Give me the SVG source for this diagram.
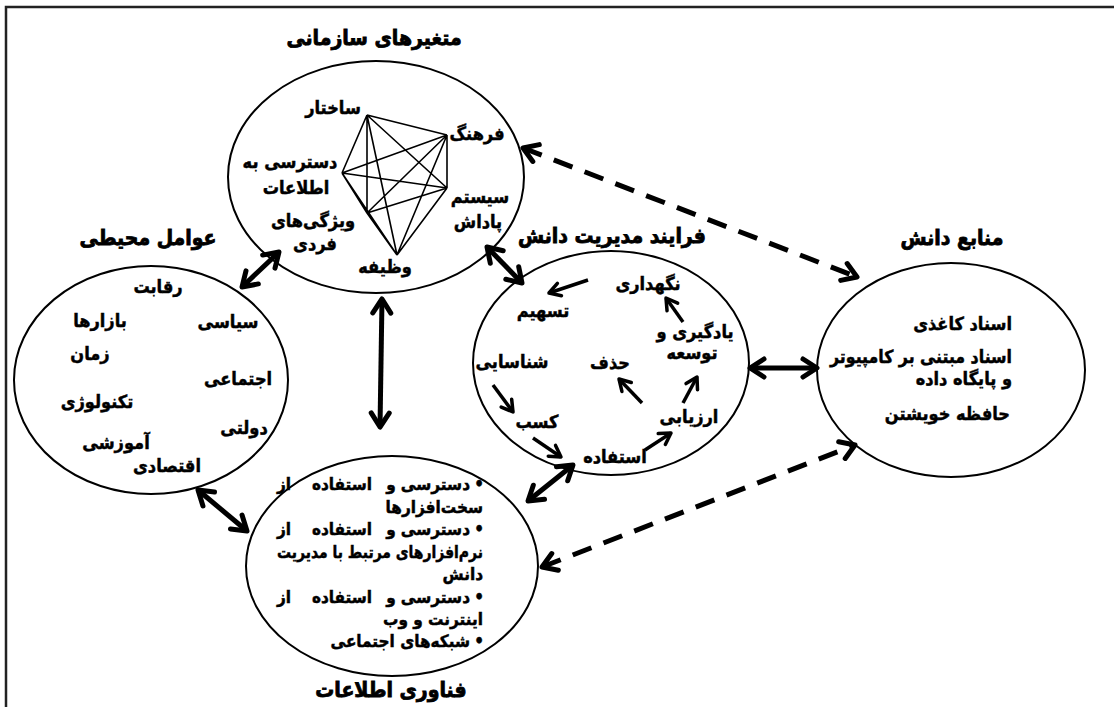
<svg xmlns="http://www.w3.org/2000/svg" width="1114" height="707" viewBox="0 0 1114 707">
<style>
text{font-family:"DejaVu Sans Condensed","DejaVu Sans",sans-serif;font-stretch:condensed;font-weight:bold;fill:#000;stroke:#000;stroke-width:0.45;}
.t{font-size:18px;text-anchor:middle;}
.r{font-size:18px;text-anchor:end;}
.b{font-size:17px;text-anchor:end;}
.bm{font-size:17px;text-anchor:middle;}
.bl{font-size:17px;text-anchor:start;}
.h{font-size:21px;text-anchor:middle;stroke-width:0.8;}
.ell{fill:none;stroke:#000;stroke-width:2;}
.k{fill:none;stroke:#000;stroke-width:1.6;}
.big{fill:none;stroke:#000;stroke-width:5;marker-start:url(#bh);marker-end:url(#bh);}
.dash{fill:none;stroke:#000;stroke-width:5;stroke-dasharray:20 13;marker-start:url(#bh);marker-end:url(#bh);}
.sm{fill:none;stroke:#000;stroke-width:3.5;marker-end:url(#sh);}
</style>
<defs>
<marker id="bh" viewBox="0 0 22 22" refX="19" refY="11" markerWidth="22" markerHeight="22" markerUnits="userSpaceOnUse" orient="auto-start-reverse" overflow="visible">
<path d="M5,2 L19,11 L5,20" fill="none" stroke="#000" stroke-width="5" stroke-linecap="round" stroke-linejoin="round"/>
</marker>
<marker id="sh" viewBox="0 0 16 16" refX="14" refY="8" markerWidth="16" markerHeight="16" markerUnits="userSpaceOnUse" orient="auto" overflow="visible">
<path d="M3,1.5 L14,8 L3,14.5" fill="none" stroke="#000" stroke-width="3.5" stroke-linecap="round" stroke-linejoin="round"/>
</marker>
</defs>
<rect width="1114" height="707" fill="#fff"/>
<path d="M6,707 V7 H1114" fill="none" stroke="#222" stroke-width="2.5"/>

<g id="connectors">
<line class="big" x1="242" y1="287" x2="279" y2="252"/>
<line class="big" x1="382" y1="299" x2="380" y2="427"/>
<line class="big" x1="487" y1="247" x2="522" y2="283"/>
<line class="big" x1="198" y1="490" x2="247" y2="531"/>
<line class="big" x1="573" y1="465" x2="528" y2="501"/>
<line class="big" x1="750" y1="368" x2="817" y2="368"/>
<line class="dash" x1="523" y1="148" x2="857" y2="277"/>
<line class="dash" x1="542" y1="567" x2="855" y2="445"/>
</g>

<g id="org-variables">
<ellipse class="ell" cx="376" cy="177" rx="148" ry="116"/>
<text class="h" x="374" y="45">متغیرهای سازمانی</text>
<g id="org-graph">
<path class="k" d="M367,115 L447,135 M367,115 L342,173 M367,115 L447,188 M367,115 L367,213 M367,115 L397,255 M447,135 L342,173 M447,135 L447,188 M447,135 L367,213 M447,135 L397,255 M342,173 L447,188 M342,173 L367,213 M342,173 L397,255 M447,188 L367,213 M447,188 L397,255 M367,213 L397,255"/>
</g>
<text class="t" x="333" y="114">ساختار</text>
<text class="t" x="477" y="140">فرهنگ</text>
<text class="t" x="290" y="168">دسترسی به</text>
<text class="t" x="296" y="194">اطلاعات</text>
<text class="t" x="480" y="203">سیستم</text>
<text class="t" x="478" y="228">پاداش</text>
<text class="t" x="313" y="227">ویژگی‌های</text>
<text class="t" x="315" y="250">فردی</text>
<text class="t" x="385" y="273">وظیفه</text>
</g>

<g id="environment">
<ellipse class="ell" cx="151" cy="380" rx="137" ry="114"/>
<text class="h" x="148" y="245">عوامل محیطی</text>
<text class="t" x="158" y="293">رقابت</text>
<text class="t" x="100" y="327">بازارها</text>
<text class="t" x="228" y="328">سیاسی</text>
<text class="t" x="90" y="360">زمان</text>
<text class="t" x="238" y="385">اجتماعی</text>
<text class="t" x="97" y="408">تکنولوژی</text>
<text class="t" x="244" y="434">دولتی</text>
<text class="t" x="116" y="449">آموزشی</text>
<text class="t" x="167" y="472">اقتصادی</text>
</g>

<g id="km-process">
<ellipse class="ell" cx="611" cy="363" rx="138" ry="112"/>
<text class="h" x="612" y="243">فرایند مدیریت دانش</text>
<text class="t" x="648" y="290">نگهداری</text>
<text class="t" x="543" y="317">تسهیم</text>
<text class="t" x="695" y="338">یادگیری و</text>
<text class="t" x="692" y="359">توسعه</text>
<text class="t" x="512" y="368">شناسایی</text>
<text class="t" x="610" y="369">حذف</text>
<text class="t" x="689" y="423">ارزیابی</text>
<text class="t" x="537" y="428">کسب</text>
<text class="t" x="615" y="463">استفاده</text>
<path class="sm" d="M588,280 L549,293"/>
<path class="sm" d="M683,322 L666,298"/>
<path class="sm" d="M493,385 L513,412"/>
<path class="sm" d="M533,438 L561,457"/>
<path class="sm" d="M645,450 L671,433"/>
<path class="sm" d="M683,403 L697,377"/>
<path class="sm" d="M642,403 L619,379"/>
</g>

<g id="knowledge-sources">
<ellipse class="ell" cx="951" cy="370" rx="134" ry="107"/>
<text class="h" x="952" y="245">منابع دانش</text>
<text class="r" x="1012" y="330">اسناد کاغذی</text>
<text class="r" x="1012" y="363" textLength="182" lengthAdjust="spacingAndGlyphs">اسناد مبتنی بر کامپیوتر</text>
<text class="r" x="1012" y="385">و پایگاه داده</text>
<text class="r" x="1010" y="420">حافظه خویشتن</text>
</g>

<g id="it">
<ellipse class="ell" cx="392" cy="566" rx="146" ry="110"/>
<text class="h" x="391" y="697">فناوری اطلاعات</text>
<text class="b" x="484" y="490">•</text>
<text class="b" x="470" y="490">دسترسی</text>
<text class="bm" x="391" y="490">و</text>
<text class="bm" x="342" y="490">استفاده</text>
<text class="bl" x="277" y="490">از</text>
<text class="b" x="483" y="513">سخت‌افزارها</text>
<text class="b" x="484" y="535">•</text>
<text class="b" x="470" y="535">دسترسی</text>
<text class="bm" x="391" y="535">و</text>
<text class="bm" x="342" y="535">استفاده</text>
<text class="bl" x="277" y="535">از</text>
<text class="b" x="483" y="558" textLength="206" lengthAdjust="spacingAndGlyphs">نرم‌افزارهای مرتبط با مدیریت</text>
<text class="b" x="483" y="580">دانش</text>
<text class="b" x="484" y="603">•</text>
<text class="b" x="470" y="603">دسترسی</text>
<text class="bm" x="391" y="603">و</text>
<text class="bm" x="342" y="603">استفاده</text>
<text class="bl" x="277" y="603">از</text>
<text class="b" x="483" y="625">اینترنت و وب</text>
<text class="b" x="484" y="647">•</text>
<text class="b" x="470" y="647">شبکه‌های اجتماعی</text>
</g>
</svg>
